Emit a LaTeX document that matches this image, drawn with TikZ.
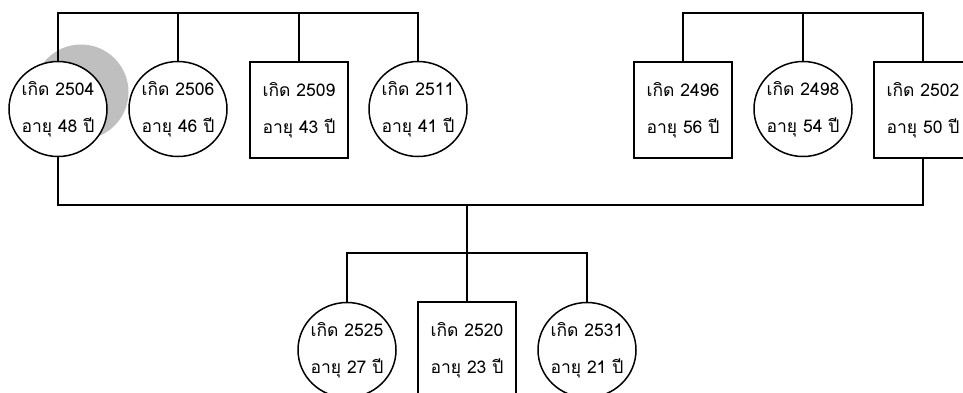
\documentclass[tikz,border=0pt]{standalone}
\usepackage{fontspec}
\newfontfamily\thaifont[Script=Thai]{Loma}
\usepackage{tikz}
\usetikzlibrary{shapes.geometric}

\tikzset{
  person/.style={draw,fill=white,line width=1.5pt,align=center,
    font=\thaifont\fontsize{17.5}{37}\selectfont},
  female/.style={person,ellipse,inner sep=-8pt,minimum width=98pt,minimum height=95pt},
  male/.style={person,rectangle,minimum width=98pt,minimum height=96pt},
  tie/.style={line width=1.5pt}
}

\begin{document}
\begin{tikzpicture}[x=1pt,y=-1pt]
    \useasboundingbox (0,0) rectangle (963,392);
    \fill[black!25] (81,92) circle (47.5pt);
    \node[female] (b2504) at (58,109) {เกิด 2504\\อายุ 48 ปี};
    \node[female] (b2506) at (178,109) {เกิด 2506\\อายุ 46 ปี};
    \node[male] (b2509) at (299,110) {เกิด 2509\\อายุ 43 ปี};
    \node[female] (b2511) at (418,109) {เกิด 2511\\อายุ 41 ปี};
    \node[male] (b2496) at (683,110) {เกิด 2496\\อายุ 56 ปี};
    \node[female] (b2498) at (803,109) {เกิด 2498\\อายุ 54 ปี};
    \node[male] (b2502) at (923,110) {เกิด 2502\\อายุ 50 ปี};
    \node[female] (b2525) at (347,350) {เกิด 2525\\อายุ 27 ปี};
    \node[male] (b2520) at (467,350) {เกิด 2520\\อายุ 23 ปี};
    \node[female] (b2531) at (587,350) {เกิด 2531\\อายุ 21 ปี};
    \coordinate (topbar) at (0,13);
    \coordinate (marriage) at (0,205);
    \coordinate (kidsbar) at (0,253);
    \draw[tie] (b2504.north) |- (b2511 |- topbar) -- (b2511.north);
    \draw[tie] (b2506.north) -- (b2506 |- topbar);
    \draw[tie] (b2509.north) -- (b2509 |- topbar);
    \draw[tie] (b2496.north) |- (b2502 |- topbar) -- (b2502.north);
    \draw[tie] (b2498.north) -- (b2498 |- topbar);
    \draw[tie] (b2504.south) |- (b2502 |- marriage) -- (b2502.south);
    \draw[tie] (b2520.north) -- (b2520 |- marriage);
    \draw[tie] (b2525.north) |- (b2531 |- kidsbar) -- (b2531.north);
  \end{tikzpicture}
\end{document}
